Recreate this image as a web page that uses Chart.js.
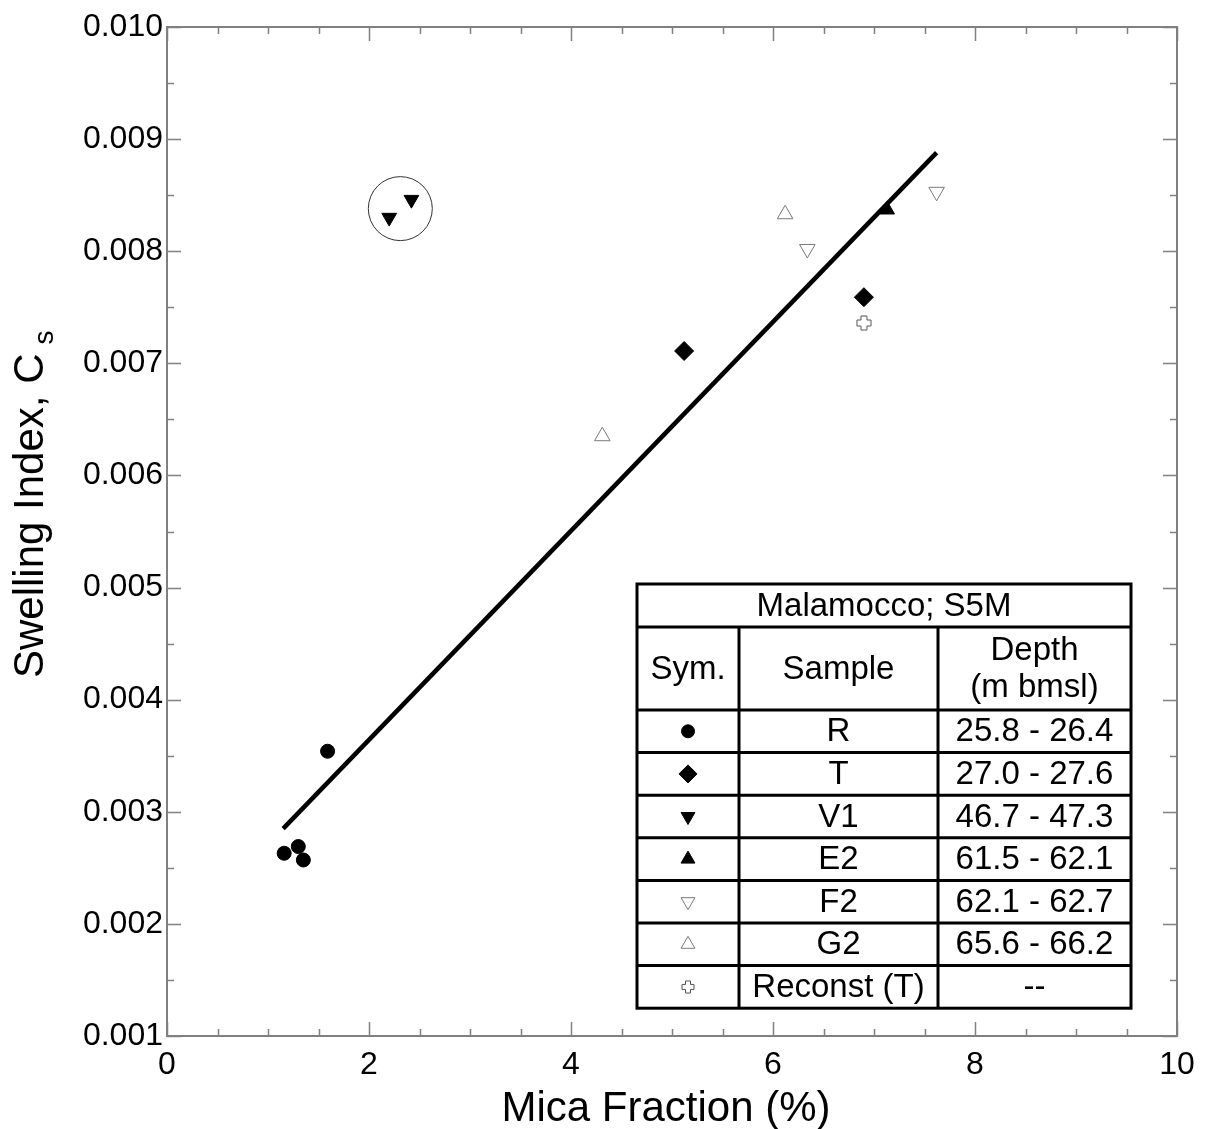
<!DOCTYPE html>
<html>
<head>
<meta charset="utf-8">
<script src="https://cdn.jsdelivr.net/npm/chart.js@4.4.1/dist/chart.umd.min.js"></script>
<style>
  html, body { margin: 0; padding: 0; background: #fff; }
  #wrap { width: 1208px; height: 1129px; }
</style>
</head>
<body>
<div id="wrap"><canvas id="chart" width="1208" height="1129"></canvas></div>
<script>
// values (mica fraction %, swelling index Cs)
const rMica = [1.16, 1.30, 1.35, 1.59];
const rCs = [0.00263, 0.00269, 0.00257, 0.00354];
const tMica = [5.12, 6.90];
const tCs = [0.00711, 0.00759];
const v1Mica = [2.20, 2.42];
const v1Cs = [0.00830, 0.00846];
const e2Mica = [7.13];
const e2Cs = [0.00837];
const f2Mica = [6.34, 7.62];
const f2Cs = [0.00802, 0.00853];
const g2Mica = [4.31, 6.12];
const g2Cs = [0.00635, 0.00833];
const reconMica = [6.90];
const reconCs = [0.00736];
const fitMica = [1.15, 7.62];
const fitCs = [0.00285, 0.00888];

const xRange = [0, 10];
const yRange = [0.001, 0.010];

const tableTitle = "Malamocco; S5M";
const tableHead = ["Sym.", "Sample", ["Depth", "(m bmsl)"]];
const samples = ["R", "T", "V1", "E2", "F2", "G2", "Reconst (T)"];
const depths = ["25.8 - 26.4", "27.0 - 27.6", "46.7 - 47.3", "61.5 - 62.1", "62.1 - 62.7", "65.6 - 66.2", "--"];

const FONT = "'Liberation Sans', Arial, sans-serif";
const AXIS_GREY = "#808080";
const OPEN_GREY = "#7a7a7a";

const pts = (xs, ys) => xs.map((x, i) => ({ x, y: ys[i] }));

// outlined plus sign, used for the reconstituted sample
function plusIcon(size, arm) {
  const c = document.createElement("canvas");
  c.width = c.height = size;
  const g = c.getContext("2d");
  const m = size / 2, a = arm / 2, e = size / 2 - 1;
  g.beginPath();
  g.moveTo(m - a, m - e); g.lineTo(m + a, m - e); g.lineTo(m + a, m - a);
  g.lineTo(m + e, m - a); g.lineTo(m + e, m + a); g.lineTo(m + a, m + a);
  g.lineTo(m + a, m + e); g.lineTo(m - a, m + e); g.lineTo(m - a, m + a);
  g.lineTo(m - e, m + a); g.lineTo(m - e, m - a); g.lineTo(m - a, m - a);
  g.closePath();
  g.fillStyle = "#fff";
  g.fill();
  g.strokeStyle = "#555";
  g.lineWidth = 1;
  g.stroke();
  return c;
}

const markers = [
  { pointStyle: "circle", rotation: 0, radius: 7, fill: "#000", stroke: "#000", legendRadius: 6.5 },
  { pointStyle: "rectRot", rotation: 0, radius: 9.5, fill: "#000", stroke: "#000", legendRadius: 9 },
  { pointStyle: "triangle", rotation: 180, radius: 8.5, fill: "#000", stroke: "#000", legendRadius: 8 },
  { pointStyle: "triangle", rotation: 0, radius: 8.5, fill: "#000", stroke: "#000", legendRadius: 8 },
  { pointStyle: "triangle", rotation: 180, radius: 9, fill: "#fff", stroke: OPEN_GREY, legendRadius: 8 },
  { pointStyle: "triangle", rotation: 0, radius: 9, fill: "#fff", stroke: OPEN_GREY, legendRadius: 8 },
  { pointStyle: plusIcon(16, 6), rotation: 0, radius: 8, fill: "#fff", stroke: "#555", legendImage: plusIcon(14, 5) },
];

const seriesData = [
  pts(rMica, rCs), pts(tMica, tCs), pts(v1Mica, v1Cs), pts(e2Mica, e2Cs),
  pts(f2Mica, f2Cs), pts(g2Mica, g2Cs), pts(reconMica, reconCs),
];

const datasets = seriesData.map((data, i) => ({
  label: samples[i],
  data,
  pointStyle: markers[i].pointStyle,
  rotation: markers[i].rotation,
  pointRadius: markers[i].radius,
  pointBackgroundColor: markers[i].fill,
  pointBorderColor: markers[i].stroke,
  pointBorderWidth: 1,
  order: 1,
}));

datasets.push({
  label: "fit",
  data: pts(fitMica, fitCs),
  showLine: true,
  borderColor: "#000",
  borderWidth: 4.5,
  pointRadius: 0,
  fill: false,
  order: 2,
});

// plot frame with inward ticks on all four sides
const framePlugin = {
  id: "frame",
  beforeDatasetsDraw(chart) {
    const { ctx, chartArea: a, scales: { x, y } } = chart;
    ctx.save();
    ctx.strokeStyle = AXIS_GREY;
    ctx.lineWidth = 2;
    ctx.strokeRect(a.left, a.top, a.right - a.left, a.bottom - a.top);
    ctx.lineWidth = 1.5;
    ctx.beginPath();
    for (let k = 0; k <= 20; k++) {
      const v = xRange[0] + k * 0.5;
      const px = Math.round(x.getPixelForValue(v)) + 0.5;
      const len = k % 4 === 0 ? 14 : 7;
      ctx.moveTo(px, a.bottom); ctx.lineTo(px, a.bottom - len);
      ctx.moveTo(px, a.top); ctx.lineTo(px, a.top + len);
    }
    for (let k = 0; k <= 18; k++) {
      const v = yRange[0] + k * 0.0005;
      const py = Math.round(y.getPixelForValue(v)) + 0.5;
      const len = k % 2 === 0 ? 14 : 7;
      ctx.moveTo(a.left, py); ctx.lineTo(a.left + len, py);
      ctx.moveTo(a.right, py); ctx.lineTo(a.right - len, py);
    }
    ctx.stroke();
    ctx.restore();
  },
};

// circle round the V1 pair
const ringPlugin = {
  id: "ring",
  afterDatasetsDraw(chart) {
    const { ctx, scales: { x, y } } = chart;
    const cx = x.getPixelForValue((v1Mica[0] + v1Mica[1]) / 2);
    const cy = y.getPixelForValue((v1Cs[0] + v1Cs[1]) / 2);
    ctx.save();
    ctx.strokeStyle = "#333";
    ctx.lineWidth = 1;
    ctx.beginPath();
    ctx.arc(cx, cy, 32, 0, Math.PI * 2);
    ctx.stroke();
    ctx.restore();
  },
};

// legend table in the lower right
const tablePlugin = {
  id: "table",
  afterDraw(chart) {
    const ctx = chart.ctx;
    const left = 637, top = 584;
    const colW = [102, 199, 193];
    const titleH = 43, headH = 83, rowH = 42.6;
    const colX = [left, left + colW[0], left + colW[0] + colW[1], left + colW[0] + colW[1] + colW[2]];
    const right = colX[3];
    const bodyTop = top + titleH + headH;
    const bottom = bodyTop + rowH * samples.length;

    ctx.save();
    ctx.fillStyle = "#fff";
    ctx.fillRect(left, top, right - left, bottom - top);
    ctx.strokeStyle = "#000";
    ctx.lineWidth = 3;
    ctx.strokeRect(left, top, right - left, bottom - top);
    ctx.beginPath();
    ctx.moveTo(left, top + titleH); ctx.lineTo(right, top + titleH);
    for (let r = 0; r < samples.length; r++) {
      const yy = bodyTop + r * rowH;
      ctx.moveTo(left, yy); ctx.lineTo(right, yy);
    }
    for (let c = 1; c < 3; c++) {
      ctx.moveTo(colX[c], top + titleH); ctx.lineTo(colX[c], bottom);
    }
    ctx.stroke();

    ctx.fillStyle = "#000";
    ctx.font = "33px " + FONT;
    ctx.textAlign = "center";
    ctx.textBaseline = "middle";
    ctx.fillText(tableTitle, (left + right) / 2, top + titleH / 2 + 1);
    const headMid = top + titleH + headH / 2;
    tableHead.forEach((h, c) => {
      const cx = (colX[c] + colX[c + 1]) / 2;
      if (Array.isArray(h)) {
        ctx.fillText(h[0], cx, headMid - 18);
        ctx.fillText(h[1], cx, headMid + 19);
      } else {
        ctx.fillText(h, cx, headMid + 1);
      }
    });
    samples.forEach((s, r) => {
      const cy = bodyTop + r * rowH + rowH / 2 + 1;
      ctx.fillStyle = "#000";
      ctx.fillText(s, (colX[1] + colX[2]) / 2, cy);
      ctx.fillText(depths[r], (colX[2] + colX[3]) / 2, cy);
      const m = markers[r];
      const sx = (colX[0] + colX[1]) / 2;
      ctx.fillStyle = m.fill;
      ctx.strokeStyle = m.stroke;
      ctx.lineWidth = 1;
      if (m.legendImage) {
        Chart.helpers.drawPoint(ctx, { pointStyle: m.legendImage, rotation: 0, radius: 7, borderWidth: 0 }, sx, cy - 1);
      } else {
        Chart.helpers.drawPoint(ctx, { pointStyle: m.pointStyle, rotation: m.rotation, radius: m.legendRadius, borderWidth: 1 }, sx, cy - 1);
      }
    });
    ctx.restore();
  },
};

// axis titles, with the subscript on Cs
const titlePlugin = {
  id: "titles",
  afterDraw(chart) {
    const { ctx } = chart;
    ctx.save();
    ctx.fillStyle = "#000";
    ctx.font = "42px " + FONT;
    ctx.textAlign = "center";
    ctx.textBaseline = "alphabetic";
    ctx.fillText("Mica Fraction (%)", 666, 1121);

    ctx.translate(43, 678);
    ctx.rotate(-Math.PI / 2);
    ctx.textAlign = "left";
    const main = "Swelling Index, C";
    ctx.fillText(main, 0, 0);
    const w = ctx.measureText(main).width;
    ctx.font = "28px " + FONT;
    ctx.fillText("s", w + 9, 10);
    ctx.restore();
  },
};

Chart.defaults.color = "#000";
Chart.defaults.font.family = FONT;

new Chart(document.getElementById("chart"), {
  type: "scatter",
  data: { datasets },
  options: {
    responsive: false,
    animation: false,
    devicePixelRatio: 1,
    layout: { padding: { top: 27, right: 31, left: 0, bottom: 0 } },
    plugins: { legend: { display: false }, tooltip: { enabled: false } },
    scales: {
      x: {
        type: "linear",
        min: xRange[0],
        max: xRange[1],
        grid: { display: false, drawTicks: false },
        border: { display: false },
        ticks: { stepSize: 2, padding: 10, font: { size: 32 }, color: "#000" },
        afterFit: (s) => { s.height = 93; },
      },
      y: {
        type: "linear",
        min: yRange[0],
        max: yRange[1],
        grid: { display: false, drawTicks: false },
        border: { display: false },
        ticks: {
          stepSize: 0.001,
          padding: 4,
          font: { size: 32 },
          color: "#000",
          callback: (v) => v.toFixed(3),
        },
        afterFit: (s) => { s.width = 167; },
      },
    },
  },
  plugins: [framePlugin, ringPlugin, tablePlugin, titlePlugin],
});
</script>
</body>
</html>
